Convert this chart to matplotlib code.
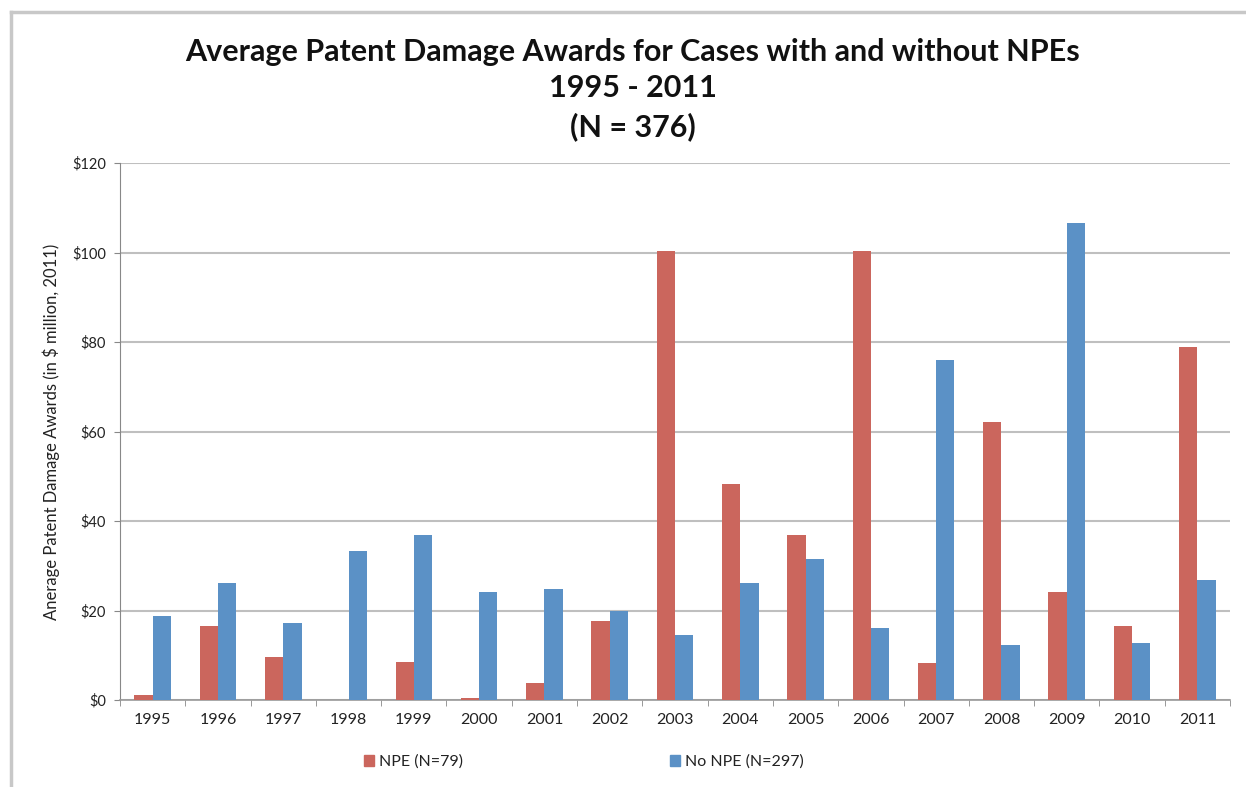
import matplotlib
matplotlib.use("Agg")
import matplotlib.pyplot as plt
import numpy as np
from matplotlib.lines import Line2D
from matplotlib.patches import Patch

years = ["1995", "1996", "1997", "1998", "1999", "2000", "2001", "2002", "2003",
         "2004", "2005", "2006", "2007", "2008", "2009", "2010", "2011"]
npe = [1.2, 16.5, 9.6, 0.0, 8.4, 0.4, 3.8, 17.6, 100.4, 48.3, 36.9, 100.4, 8.2, 62.2, 24.1, 16.5, 78.9]
no_npe = [18.8, 26.1, 17.3, 33.3, 36.9, 24.1, 24.9, 20.0, 14.5, 26.1, 31.4, 16.1, 75.9, 12.2, 106.5, 12.7, 26.8]
yticks = [0, 20, 40, 60, 80, 100, 120]
ytick_labels = ["$0", "$20", "$40", "$60", "$80", "$100", "$120"]

RED = "#CB665D"
BLUE = "#5B91C6"
GRID = "#BFBFBF"
TXT = "#222222"

plt.rcParams['font.family'] = ['Lato', 'DejaVu Sans']

fig = plt.figure(figsize=(12.46, 7.87), dpi=100)
ax = fig.add_axes([120/1246, 1-700/787, 1110/1246, 537/787])

x = np.arange(len(years))
w = 0.28
ax.bar(x - w/2, npe, width=w, color=RED, label="NPE (N=79)", zorder=3)
ax.bar(x + w/2, no_npe, width=w, color=BLUE, label="No NPE (N=297)", zorder=3)

ax.set_xlim(-0.5, len(years) - 0.5)
ax.set_ylim(0, 120)
ax.set_yticks(yticks)
ax.set_yticklabels(ytick_labels, fontsize=10.5, color=TXT)
ax.set_xticks(x)
ax.set_xticklabels(years, fontsize=11.5, color=TXT)
ax.tick_params(axis='x', length=0, pad=9)
ax.tick_params(axis='y', length=4, color="#888888", pad=6)
# category boundary ticks
ax.set_xticks(np.arange(-0.5, len(years), 1.0), minor=True)
ax.tick_params(axis='x', which='minor', length=4, color="#888888", direction='out')

ax.grid(axis='y', color=GRID, linewidth=1.5, zorder=0)
for s in ['top', 'right']:
    ax.spines[s].set_visible(False)
ax.spines['left'].set_color("#888888")
ax.spines['bottom'].set_color("#999999")
ax.spines['bottom'].set_linewidth(1.2)

ax.set_ylabel("Anerage Patent Damage Awards (in $ million, 2011)", fontsize=12, color=TXT, labelpad=9)

fig.text(633/1246, 1-52/787, "Average Patent Damage Awards for Cases with and without NPEs",
         ha='center', va='center', fontsize=22, fontweight='bold', color="#111111")
fig.text(633/1246, 1-88/787, "1995 - 2011", ha='center', va='center', fontsize=22,
         fontweight='bold', color="#111111")
fig.text(633/1246, 1-127/787, "(N = 376)", ha='center', va='center', fontsize=22,
         fontweight='bold', color="#111111")

handles = [Patch(color=RED), Patch(color=BLUE)]
fig.legend(handles, ["NPE (N=79)", "No NPE (N=297)"], loc='center',
           bbox_to_anchor=(584/1246, 1-762/787), ncol=2, frameon=False,
           fontsize=11.5, columnspacing=13.0, handlelength=0.6, handleheight=0.6,
           handletextpad=0.3, labelcolor=TXT)

# outer border (top and left visible)
fig.add_artist(Line2D([11/1246, 1.0], [1-12/787, 1-12/787], transform=fig.transFigure,
                      color="#C8C8C8", linewidth=2.5))
fig.add_artist(Line2D([11/1246, 11/1246], [0, 1-12/787], transform=fig.transFigure,
                      color="#C8C8C8", linewidth=2.5))

fig.savefig("out.png", dpi=100, facecolor="white")
